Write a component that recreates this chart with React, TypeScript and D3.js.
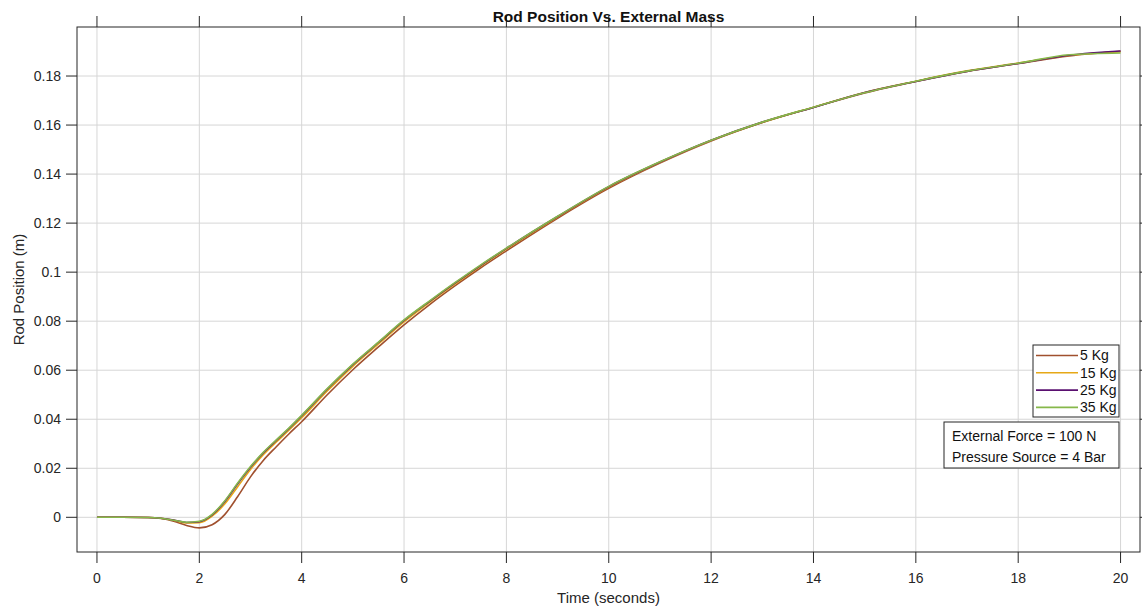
import * as d3 from "d3";

const times = [0, 0.5, 1, 1.25, 1.5, 1.75, 2, 2.25, 2.5, 2.75, 3, 3.25, 3.5, 3.75, 4, 4.5, 5, 5.5, 6, 6.5, 7, 7.5, 8, 9, 10, 11, 12, 13, 14, 15, 16, 17, 18, 19, 20];

const rod5 = [0, 0, -0.0001, -0.0005, -0.0016, -0.0033, -0.0043, -0.0030, 0.0012, 0.0085, 0.0165, 0.0232, 0.0287, 0.0340, 0.0390, 0.0500, 0.0602, 0.0695, 0.0785, 0.0868, 0.0945, 0.1018, 0.1087, 0.1220, 0.1342, 0.1445, 0.1535, 0.1610, 0.1672, 0.1731, 0.1778, 0.1819, 0.1851, 0.1882, 0.1901];
const rod15 = [0, 0, -0.0001, -0.0004, -0.0012, -0.0023, -0.0022, 0.0005, 0.0055, 0.0125, 0.0195, 0.0255, 0.0306, 0.0355, 0.0406, 0.0515, 0.0616, 0.0707, 0.0797, 0.0877, 0.0952, 0.1025, 0.1094, 0.1225, 0.1347, 0.1448, 0.1537, 0.1611, 0.1673, 0.1733, 0.1779, 0.1821, 0.1853, 0.1884, 0.1899];
const rod25 = [0, 0, -0.0001, -0.0004, -0.0011, -0.0021, -0.0018, 0.0010, 0.0065, 0.0137, 0.0204, 0.0263, 0.0313, 0.0362, 0.0414, 0.0523, 0.0623, 0.0713, 0.0803, 0.0881, 0.0956, 0.1028, 0.1097, 0.1227, 0.1349, 0.1449, 0.1538, 0.1612, 0.1672, 0.1733, 0.1778, 0.1819, 0.1851, 0.1885, 0.1902];
const rod35 = [0, 0, -0.0001, -0.0004, -0.0012, -0.0020, -0.0016, 0.0012, 0.0068, 0.0140, 0.0207, 0.0265, 0.0315, 0.0364, 0.0416, 0.0525, 0.0625, 0.0715, 0.0805, 0.0883, 0.0958, 0.1030, 0.1098, 0.1228, 0.1350, 0.1450, 0.1538, 0.1612, 0.1673, 0.1732, 0.1779, 0.1820, 0.1852, 0.1887, 0.1894];

const seriesNames = ["5 Kg", "15 Kg", "25 Kg", "35 Kg"];
const seriesColors = ["#a0502e", "#e6a817", "#5a1070", "#86b84a"];
const seriesValues = [rod5, rod15, rod25, rod35];

const xTicks = [0, 2, 4, 6, 8, 10, 12, 14, 16, 18, 20];
const yTicks = [0, 0.02, 0.04, 0.06, 0.08, 0.1, 0.12, 0.14, 0.16, 0.18];
const notes = ["External Force = 100 N", "Pressure Source = 4 Bar"];

const W = 1142;
const H = 610;
const left = 77, top = 27, right = 1140, bottom = 552;
const font = "Arial, 'Liberation Sans', sans-serif";

export default function App() {
  const x = d3.scaleLinear().domain([-0.39, 20.38]).range([left, right]);
  const y = d3.scaleLinear().domain([-0.01415, 0.2]).range([bottom, top]);

  const line = d3.line<number>()
    .x((_, i) => x(times[i]))
    .y(d => y(d))
    .curve(d3.curveMonotoneX);

  const legendRows = seriesNames.map((name, i) => ({ name, color: seriesColors[i], cy: 355.5 + i * 17.3 }));

  return (
    <div style={{ position: "absolute", left: 0, top: 0 }}>
      <svg width={W} height={H} style={{ display: "block", background: "#fff" }} fontFamily={font}>
        <rect x={0} y={0} width={W} height={H} fill="#fff" />

        {/* grid */}
        {xTicks.map(t => (
          <line key={`gx${t}`} x1={x(t)} x2={x(t)} y1={top} y2={bottom} stroke="#d6d6d6" strokeWidth={1} />
        ))}
        {yTicks.map(t => (
          <line key={`gy${t}`} x1={left} x2={right} y1={y(t)} y2={y(t)} stroke="#d6d6d6" strokeWidth={1} />
        ))}

        {/* curves */}
        <defs>
          <clipPath id="plotclip">
            <rect x={left} y={top} width={right - left} height={bottom - top} />
          </clipPath>
        </defs>
        <g clipPath="url(#plotclip)">
          {seriesValues.map((vals, i) => (
            <path key={i} d={line(vals) ?? ""} fill="none" stroke={seriesColors[i]} strokeWidth={1.6} />
          ))}
        </g>

        {/* box + ticks */}
        <rect x={left} y={top} width={right - left} height={bottom - top} fill="none" stroke="#262626" strokeWidth={1} />
        {xTicks.map(t => (
          <g key={`tx${t}`}>
            <line x1={x(t)} x2={x(t)} y1={bottom} y2={bottom + 11} stroke="#262626" />
            <line x1={x(t)} x2={x(t)} y1={top} y2={top - 11} stroke="#262626" />
            <text x={x(t)} y={583} fontSize={14} textAnchor="middle" fill="#262626">{t}</text>
          </g>
        ))}
        {yTicks.map(t => (
          <g key={`ty${t}`}>
            <line x1={left} x2={left - 11} y1={y(t)} y2={y(t)} stroke="#262626" />
            <line x1={right} x2={right + 11} y1={y(t)} y2={y(t)} stroke="#262626" />
            <text x={61} y={y(t)} dy="0.35em" fontSize={14} textAnchor="end" fill="#262626">{t}</text>
          </g>
        ))}

        {/* labels */}
        <text x={(left + right) / 2} y={22} fontSize={15.5} fontWeight="bold" textAnchor="middle" fill="#111">Rod Position Vs. External Mass</text>
        <text x={(left + right) / 2} y={603} fontSize={15} textAnchor="middle" fill="#262626">Time (seconds)</text>
        <text transform={`translate(24, ${(top + bottom) / 2}) rotate(-90)`} fontSize={15} textAnchor="middle" fill="#262626">Rod Position (m)</text>

        {/* legend */}
        <rect x={1033} y={345} width={86} height={72} fill="#fff" stroke="#262626" strokeWidth={1} />
        {legendRows.map(r => (
          <g key={r.name}>
            <line x1={1036} x2={1078} y1={r.cy} y2={r.cy} stroke={r.color} strokeWidth={1.6} />
            <text x={1080} y={r.cy} dy="0.35em" fontSize={14} fill="#111">{r.name}</text>
          </g>
        ))}

        {/* annotation */}
        <rect x={944} y={422} width={175} height={46} fill="#fff" stroke="#262626" strokeWidth={1} />
        {notes.map((n, i) => (
          <text key={n} x={952} y={436 + i * 21} dy="0.35em" fontSize={14} fill="#111">{n}</text>
        ))}
      </svg>
    </div>
  );
}
